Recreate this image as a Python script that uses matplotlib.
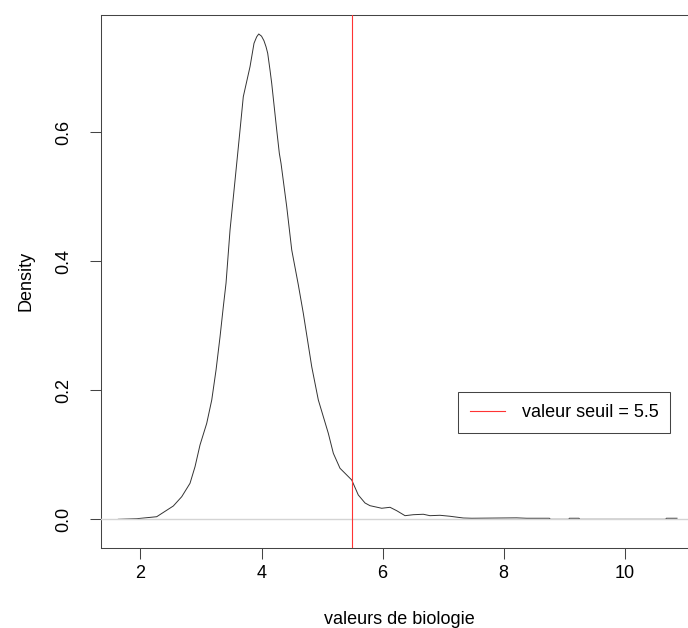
import matplotlib
matplotlib.use("Agg")
import matplotlib.pyplot as plt

plt.rcParams['font.family'] = ['Liberation Sans', 'DejaVu Sans']
plt.rcParams['font.size'] = 13

# density estimate of the biology values (x grid, density)
dens_x = [1.635, 1.939, 2.269, 2.543, 2.682, 2.819, 2.902, 2.984, 3.095, 3.178,
          3.249, 3.315, 3.369, 3.414, 3.480, 3.563, 3.645, 3.699, 3.810, 3.876,
          3.920, 3.954, 4.000, 4.040, 4.074, 4.102, 4.140, 4.168, 4.251, 4.294,
          4.322, 4.416, 4.499, 4.608, 4.690, 4.829, 4.938, 5.103, 5.186, 5.296,
          5.489, 5.598, 5.709, 5.791, 5.985, 6.122, 6.233, 6.370, 6.507, 6.672,
          6.781, 6.947, 7.112, 7.332, 7.470, 8.213, 8.378, 8.755, 8.770, 9.075,
          9.083, 9.243, 9.255, 10.675, 10.685, 10.862]
dens_y = [0.0000, 0.0009, 0.0040, 0.0206, 0.0350, 0.0558, 0.0816, 0.1152, 0.1488, 0.1850,
          0.2315, 0.2831, 0.3296, 0.3663, 0.4485, 0.5260, 0.6035, 0.6552, 0.7017, 0.7380,
          0.7480, 0.7524, 0.7490, 0.7420, 0.7327, 0.7225, 0.6966, 0.6760, 0.6035, 0.5674,
          0.5519, 0.4847, 0.4175, 0.3633, 0.3194, 0.2366, 0.1850, 0.1333, 0.1023, 0.0791,
          0.0610, 0.0377, 0.0253, 0.0211, 0.0171, 0.0186, 0.0133, 0.0056, 0.0071, 0.0078,
          0.0056, 0.0062, 0.0047, 0.0020, 0.0016, 0.0022, 0.0016, 0.0016, 0.0000, 0.0000,
          0.0016, 0.0016, 0.0000, 0.0000, 0.0016, 0.0016]

seuil = 5.5
x_ticks = [2, 4, 6, 8, 10]
y_ticks = [0.0, 0.2, 0.4, 0.6]

fig = plt.figure(figsize=(6.88, 6.28), dpi=100)
ax = fig.add_axes([0.1461, 0.1274, 0.8699, 0.8492])

ax.plot(dens_x, dens_y, color='#333333', lw=0.7, zorder=2)
# zero line drawn over the curve, like plot.density does
ax.axhline(0, color='#d4d4d4', lw=1.0, zorder=3)
ax.axvline(seuil, color='#ff3333', lw=0.8, zorder=4, label='valeur seuil = ' + str(seuil))

ax.set_xlim(1.341, 11.225)
ax.set_ylim(-0.0445, 0.7823)
ax.set_xticks(x_ticks)
ax.set_xticklabels([str(v) for v in x_ticks])
ax.set_yticks(y_ticks)
ax.set_yticklabels(['%.1f' % v for v in y_ticks], rotation=90, va='center')

for s in ax.spines.values():
    s.set_linewidth(0.75)
    s.set_color('#444444')
ax.tick_params(axis='both', direction='out', length=8, width=0.75, color='#444444')
ax.tick_params(axis='x', pad=4)
ax.tick_params(axis='y', pad=12)

ax.set_xlabel('valeurs de biologie')
ax.set_ylabel('Density')
ax.xaxis.set_label_coords(0.5, -0.118)
ax.yaxis.set_label_coords(-0.111, 0.5)

leg = ax.legend(loc='center', bbox_to_anchor=(0.7748, 0.2541), fancybox=False,
                edgecolor='#444444', framealpha=1, borderpad=0.67,
                handlelength=1.92, handletextpad=0.93, borderaxespad=0)
leg.get_frame().set_linewidth(0.75)

fig.savefig('out.png', dpi=100)
